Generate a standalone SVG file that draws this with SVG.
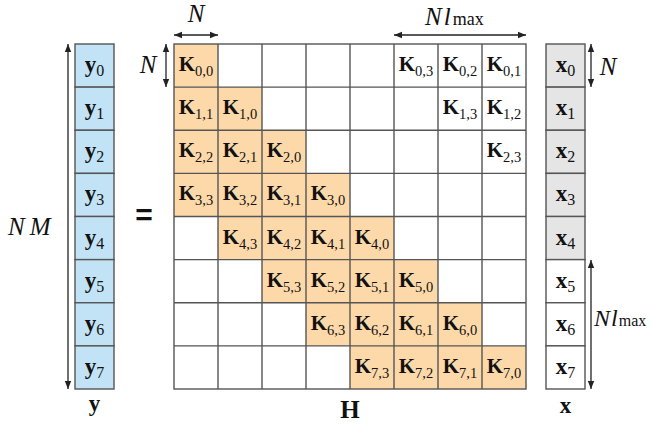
<svg xmlns="http://www.w3.org/2000/svg" width="652" height="426" viewBox="0 0 652 426">
<style>
.cell{stroke:#555;stroke-width:1.4}
.o{fill:#fdd9aa}
.w{fill:#fff}
.b{fill:#c2e3f5}
.g{fill:#e5e5e5}
text{font-family:'Liberation Serif','Times New Roman',serif}
.k{font-size:21px;font-weight:bold;fill:#111;text-anchor:middle}
.sub{font-weight:normal;font-size:14.5px}
.v{font-size:23px;font-weight:bold;fill:#111;text-anchor:middle}
.vs{font-weight:normal;font-size:16px}
.it{font-size:25px;font-style:italic;fill:#111}
.ms{font-style:normal;font-size:18px}
.arr{stroke:#222;stroke-width:1.3;fill:none;marker-start:url(#ah);marker-end:url(#ah)}
</style>
<defs>
<marker id="ah" viewBox="0 0 10 10" refX="10" refY="5" markerWidth="8" markerHeight="8" markerUnits="userSpaceOnUse" orient="auto-start-reverse">
<path d="M0,1 L10,5 L0,9 z" fill="#222"/>
</marker>
</defs>

<g id="vector-y">
<rect class="cell b" x="75" y="44" width="39" height="43.125"/>
<rect class="cell b" x="75" y="87.125" width="39" height="43.125"/>
<rect class="cell b" x="75" y="130.25" width="39" height="43.125"/>
<rect class="cell b" x="75" y="173.375" width="39" height="43.125"/>
<rect class="cell b" x="75" y="216.5" width="39" height="43.125"/>
<rect class="cell b" x="75" y="259.625" width="39" height="43.125"/>
<rect class="cell b" x="75" y="302.75" width="39" height="43.125"/>
<rect class="cell b" x="75" y="345.875" width="39" height="43.125"/>
<text class="v" x="94.5" y="72">y<tspan class="vs" dy="4">0</tspan></text>
<text class="v" x="94.5" y="115">y<tspan class="vs" dy="4">1</tspan></text>
<text class="v" x="94.5" y="158">y<tspan class="vs" dy="4">2</tspan></text>
<text class="v" x="94.5" y="201">y<tspan class="vs" dy="4">3</tspan></text>
<text class="v" x="94.5" y="245">y<tspan class="vs" dy="4">4</tspan></text>
<text class="v" x="94.5" y="288">y<tspan class="vs" dy="4">5</tspan></text>
<text class="v" x="94.5" y="331">y<tspan class="vs" dy="4">6</tspan></text>
<text class="v" x="94.5" y="374">y<tspan class="vs" dy="4">7</tspan></text>
<text class="v" x="94.5" y="411">y</text>
</g>

<g id="vector-x">
<rect class="cell g" x="546" y="44" width="39" height="43.125"/>
<rect class="cell g" x="546" y="87.125" width="39" height="43.125"/>
<rect class="cell g" x="546" y="130.25" width="39" height="43.125"/>
<rect class="cell g" x="546" y="173.375" width="39" height="43.125"/>
<rect class="cell g" x="546" y="216.5" width="39" height="43.125"/>
<rect class="cell w" x="546" y="259.625" width="39" height="43.125"/>
<rect class="cell w" x="546" y="302.75" width="39" height="43.125"/>
<rect class="cell w" x="546" y="345.875" width="39" height="43.125"/>
<text class="v" x="565.5" y="72">x<tspan class="vs" dy="4">0</tspan></text>
<text class="v" x="565.5" y="115">x<tspan class="vs" dy="4">1</tspan></text>
<text class="v" x="565.5" y="158">x<tspan class="vs" dy="4">2</tspan></text>
<text class="v" x="565.5" y="201">x<tspan class="vs" dy="4">3</tspan></text>
<text class="v" x="565.5" y="245">x<tspan class="vs" dy="4">4</tspan></text>
<text class="v" x="565.5" y="288">x<tspan class="vs" dy="4">5</tspan></text>
<text class="v" x="565.5" y="331">x<tspan class="vs" dy="4">6</tspan></text>
<text class="v" x="565.5" y="374">x<tspan class="vs" dy="4">7</tspan></text>
<text class="v" x="565.5" y="413">x</text>
</g>

<g id="matrix-H">
<rect class="w" x="174" y="44" width="352" height="345"/>
<rect class="o" x="174" y="44" width="44" height="43.125"/>
<rect class="o" x="174" y="87.125" width="88" height="43.125"/>
<rect class="o" x="174" y="130.25" width="132" height="43.125"/>
<rect class="o" x="174" y="173.375" width="176" height="43.125"/>
<rect class="o" x="218" y="216.5" width="176" height="43.125"/>
<rect class="o" x="262" y="259.625" width="176" height="43.125"/>
<rect class="o" x="306" y="302.75" width="176" height="43.125"/>
<rect class="o" x="350" y="345.875" width="176" height="43.125"/>
<g stroke="#555" stroke-width="1.4" fill="none">
<rect x="174" y="44" width="352" height="345"/>
<path d="M218,44V389M262,44V389M306,44V389M350,44V389M394,44V389M438,44V389M482,44V389"/>
<path d="M174,87.125H526M174,130.25H526M174,173.375H526M174,216.5H526M174,259.625H526M174,302.75H526M174,345.875H526"/>
</g>
<text class="k" x="196" y="71">K<tspan class="sub" dy="5">0,0</tspan></text>
<text class="k" x="416" y="71">K<tspan class="sub" dy="5">0,3</tspan></text>
<text class="k" x="460" y="71">K<tspan class="sub" dy="5">0,2</tspan></text>
<text class="k" x="504" y="71">K<tspan class="sub" dy="5">0,1</tspan></text>
<text class="k" x="196" y="114">K<tspan class="sub" dy="5">1,1</tspan></text>
<text class="k" x="240" y="114">K<tspan class="sub" dy="5">1,0</tspan></text>
<text class="k" x="460" y="114">K<tspan class="sub" dy="5">1,3</tspan></text>
<text class="k" x="504" y="114">K<tspan class="sub" dy="5">1,2</tspan></text>
<text class="k" x="196" y="157">K<tspan class="sub" dy="5">2,2</tspan></text>
<text class="k" x="240" y="157">K<tspan class="sub" dy="5">2,1</tspan></text>
<text class="k" x="284" y="157">K<tspan class="sub" dy="5">2,0</tspan></text>
<text class="k" x="504" y="157">K<tspan class="sub" dy="5">2,3</tspan></text>
<text class="k" x="196" y="200">K<tspan class="sub" dy="5">3,3</tspan></text>
<text class="k" x="240" y="200">K<tspan class="sub" dy="5">3,2</tspan></text>
<text class="k" x="284" y="200">K<tspan class="sub" dy="5">3,1</tspan></text>
<text class="k" x="328" y="200">K<tspan class="sub" dy="5">3,0</tspan></text>
<text class="k" x="240" y="244">K<tspan class="sub" dy="5">4,3</tspan></text>
<text class="k" x="284" y="244">K<tspan class="sub" dy="5">4,2</tspan></text>
<text class="k" x="328" y="244">K<tspan class="sub" dy="5">4,1</tspan></text>
<text class="k" x="372" y="244">K<tspan class="sub" dy="5">4,0</tspan></text>
<text class="k" x="284" y="287">K<tspan class="sub" dy="5">5,3</tspan></text>
<text class="k" x="328" y="287">K<tspan class="sub" dy="5">5,2</tspan></text>
<text class="k" x="372" y="287">K<tspan class="sub" dy="5">5,1</tspan></text>
<text class="k" x="416" y="287">K<tspan class="sub" dy="5">5,0</tspan></text>
<text class="k" x="328" y="330">K<tspan class="sub" dy="5">6,3</tspan></text>
<text class="k" x="372" y="330">K<tspan class="sub" dy="5">6,2</tspan></text>
<text class="k" x="416" y="330">K<tspan class="sub" dy="5">6,1</tspan></text>
<text class="k" x="460" y="330">K<tspan class="sub" dy="5">6,0</tspan></text>
<text class="k" x="372" y="373">K<tspan class="sub" dy="5">7,3</tspan></text>
<text class="k" x="416" y="373">K<tspan class="sub" dy="5">7,2</tspan></text>
<text class="k" x="460" y="373">K<tspan class="sub" dy="5">7,1</tspan></text>
<text class="k" x="504" y="373">K<tspan class="sub" dy="5">7,0</tspan></text>
<text class="v" x="350" y="418" style="font-size:25px">H</text>
</g>

<g id="equals">
<text x="144" y="225" style="font-family:'Liberation Sans',Arial,sans-serif" font-size="30" font-weight="bold" fill="#111" text-anchor="middle">=</text>
</g>

<g id="connectors">
<line class="arr" x1="68" y1="44" x2="68" y2="389"/>
<line class="arr" x1="174" y1="35" x2="218" y2="35"/>
<line class="arr" x1="394" y1="35" x2="526" y2="35"/>
<line class="arr" x1="166" y1="44" x2="166" y2="87"/>
<line class="arr" x1="591" y1="44" x2="591" y2="87"/>
<line class="arr" x1="591" y1="260" x2="591" y2="389"/>
</g>

<g id="labels">
<text class="it" x="196" y="22" text-anchor="middle">N</text>
<text class="it" x="425" y="25">N<tspan dx="2">l</tspan><tspan class="ms" dx="2">max</tspan></text>
<text class="it" x="148" y="73" text-anchor="middle">N</text>
<text class="it" x="608" y="75" text-anchor="middle">N</text>
<text class="it" x="594" y="326" style="font-size:24px">N<tspan dx="1">l</tspan><tspan class="ms" style="font-size:16px" dx="1">max</tspan></text>
<text class="it" x="8" y="235">N<tspan dx="5">M</tspan></text>
</g>
</svg>
